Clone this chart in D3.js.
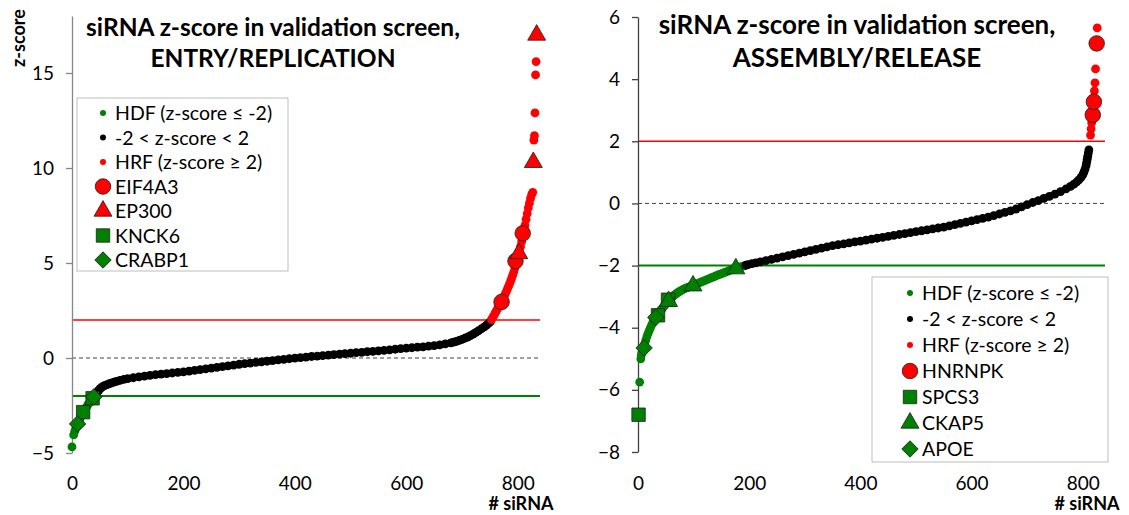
<!DOCTYPE html>
<html>
<head>
<meta charset="utf-8">
<script src="https://cdn.jsdelivr.net/npm/d3@7"></script>
<style>
  body { margin: 0; background: #fff; }
  text { font-family: Lato, "Open Sans", sans-serif; }
</style>
</head>
<body>
<svg id="chart" width="1129" height="515"></svg>
<script>
// ---- values: [siRNA rank, z-score] ----

// ENTRY/REPLICATION screen
const entryHDF = [[0,-4.68],[3,-4.05],[5,-3.85],[7,-3.68],[9,-3.52],[11,-3.4],[13,-3.28],[15,-3.15],[17,-3.03],[19,-2.92],[21,-2.82],[23,-2.72],[25,-2.62],[27,-2.53],[29,-2.44],[31,-2.36],[33,-2.28],[35,-2.2],[37,-2.12],[39,-2.05],[41,-2.0]];
const entryMid = [[43,-1.95],[44,-1.88],[45,-1.82],[46,-1.77],[48,-1.7],[50,-1.63],[52,-1.57],[55,-1.51],[58,-1.46],[62,-1.41],[66,-1.36],[70,-1.32],[75,-1.27],[80,-1.23],[86,-1.18],[93,-1.13],[100,-1.09],[110,-1.04],[120,-0.99],[130,-0.95],[140,-0.91],[150,-0.88],[160,-0.85],[170,-0.82],[180,-0.79],[190,-0.76],
  [200,-0.73],[210,-0.69],[220,-0.65],[230,-0.61],[240,-0.57],[250,-0.53],[260,-0.49],[270,-0.45],[280,-0.41],[290,-0.37],[300,-0.33],[310,-0.3],[320,-0.27],[330,-0.23],[340,-0.2],[350,-0.17],[360,-0.14],[370,-0.1],[380,-0.07],[390,-0.04],
  [400,-0.01],[410,0.02],[420,0.05],[430,0.08],[440,0.1],[450,0.13],[460,0.15],[470,0.18],[480,0.2],[490,0.23],[500,0.25],[510,0.28],[520,0.3],[530,0.33],[540,0.35],[550,0.38],[560,0.4],[570,0.43],[580,0.46],[590,0.49],
  [600,0.52],[610,0.54],[620,0.57],[630,0.59],[640,0.62],[650,0.65],[660,0.69],[670,0.74],[680,0.8],[685,0.84],[690,0.88],[695,0.93],[700,0.98],[705,1.04],[710,1.1],[715,1.18],[720,1.26],[725,1.35],[730,1.44],[735,1.54],[740,1.64],[744,1.73],[748,1.83],[751,1.92]];
const entryHRF = [[753,2.02],[755,2.12],[757,2.22],[759,2.33],[761,2.44],[763,2.55],[765,2.66],[767,2.77],[769,2.88],[771,2.98],[773,3.09],[775,3.21],[777,3.33],[779,3.46],[781,3.6],[783,3.74],[785,3.88],[787,4.03],[789,4.19],[791,4.36],[793,4.54],[795,4.74],[797,4.95],[799,5.17],[801,5.39],[803,5.62],[805,5.86],[807,6.12],[809,6.4],[811,6.68],[813,6.98],[815,7.3],[817,7.6],[819,7.9],[821,8.15],[823,8.4],[825,8.6],[827,8.72],[829,11.47],[830,11.7],[831,12.9],[832,14.9],[833,15.6]];
const entryEIF4A3 = [[771,2.95],[796,5.1],[809,6.56]];
const entryEP300 = [[802,5.5],[828,10.3],[834,17.0]];
const entryKNCK6 = [[20,-2.85],[37,-2.12]];
const entryCRABP1 = [[10,-3.47],[39,-2.05]];

// ASSEMBLY/RELEASE screen
const assemblyHDF = [[1,-6.8],[3,-5.75],[5,-5.0],[6,-4.88],[7,-4.8],[8,-4.74],[9,-4.68],[10,-4.63],[12,-4.52],[14,-4.4],[16,-4.29],[18,-4.19],[20,-4.1],[22,-4.01],[24,-3.93],[26,-3.86],[28,-3.79],[30,-3.73],[32,-3.67],[34,-3.61],[36,-3.56],[38,-3.51],[40,-3.46],[42,-3.41],[44,-3.37],[46,-3.32],[48,-3.28],[50,-3.23],[52,-3.18],[54,-3.13],[56,-3.09],[58,-3.05],[60,-3.02],
  [63,-2.98],[66,-2.94],[69,-2.9],[72,-2.86],[75,-2.83],[78,-2.8],[81,-2.77],[84,-2.74],[87,-2.72],[90,-2.7],[93,-2.68],[96,-2.66],[99,-2.64],[103,-2.61],[107,-2.58],[111,-2.55],[115,-2.52],[119,-2.49],[123,-2.46],[127,-2.43],[131,-2.4],[135,-2.37],[139,-2.34],[143,-2.31],[147,-2.28],[151,-2.26],[155,-2.23],[159,-2.2],[163,-2.17],[167,-2.14],[171,-2.12],[175,-2.09],[179,-2.07],[183,-2.05],[187,-2.03],[191,-2.01]];
const assemblyMid = [[194,-1.99],[198,-1.97],[205,-1.94],[212,-1.91],[220,-1.88],[230,-1.84],[240,-1.8],[250,-1.76],[260,-1.72],[270,-1.68],[280,-1.64],[290,-1.6],[300,-1.56],[310,-1.52],[320,-1.48],[330,-1.44],[340,-1.4],[350,-1.36],[360,-1.33],[370,-1.3],[380,-1.27],[390,-1.24],
  [400,-1.21],[410,-1.18],[420,-1.15],[430,-1.12],[440,-1.09],[450,-1.06],[460,-1.03],[470,-1.0],[480,-0.97],[490,-0.94],[500,-0.91],[510,-0.88],[520,-0.85],[530,-0.82],[540,-0.79],[550,-0.76],[560,-0.72],[570,-0.68],[580,-0.64],[590,-0.6],
  [600,-0.56],[610,-0.52],[620,-0.48],[630,-0.44],[640,-0.39],[650,-0.34],[660,-0.29],[670,-0.24],[680,-0.18],[690,-0.11],[700,-0.04],[710,0.03],[720,0.09],[730,0.16],[740,0.23],[750,0.3],[760,0.38],[770,0.47],[778,0.55],[784,0.62],[789,0.69],[793,0.76],[797,0.84],[800,0.92],[802,1.0],[804,1.1],[806,1.22],[807,1.32],[808,1.42],[809,1.52],[810,1.62],[811,1.72]];
const assemblyHRF = [[814,2.2],[815,2.4],[816,2.6],[818,2.85],[819,3.1],[820,3.3],[821,3.62],[822,3.88],[823,4.33],[825,5.15],[826,5.65]];
const assemblyHNRNPK = [[818,2.85],[820,3.27],[825,5.15]];
const assemblySPCS3 = [[1,-6.8],[36,-3.6],[54,-3.1]];
const assemblyCKAP5 = [[55,-3.15],[99,-2.65],[176,-2.1]];
const assemblyAPOE = [[11,-4.65],[32,-3.67]];

// axis ticks and texts
const xTicks = [0, 200, 400, 600, 800];
const entryYTicks = [-5, 0, 5, 10, 15];
const assemblyYTicks = [-8, -6, -4, -2, 0, 2, 4, 6];
const classLabels = ["HDF (z-score \u2264 -2)", "-2 < z-score < 2", "HRF (z-score \u2265 2)"];
const entryGenes = ["EIF4A3", "EP300", "KNCK6", "CRABP1"];
const assemblyGenes = ["HNRNPK", "SPCS3", "CKAP5", "APOE"];
const titleLine1 = "siRNA z-score in validation screen,";

// Colours
const colors = {
  hdf: "#008000",
  mid: "#000000",
  hrf: "#ff0000",
  outline: "#1f1f1f",
  legendBorder: "#bdbdbd",
  zeroLine: "#404040"
};

const svg = d3.select("#chart");

// marker paths (diamond = rotated square)
const markerPath = {
  circle: d3.symbol().type(d3.symbolCircle).size(190)(),
  triangle: d3.symbol().type(d3.symbolTriangle).size(140)(),
  square: d3.symbol().type(d3.symbolSquare).size(180)(),
  diamond: d3.symbol().type(d3.symbolSquare).size(135)()
};

function drawMarker(sel, shape, color) {
  sel.append("path")
      .attr("d", markerPath[shape])
      .attr("transform", shape === "diamond" ? "rotate(45)" : null)
      .attr("fill", color)
      .attr("stroke", colors.outline)
      .attr("stroke-width", 0.8);
}

function drawPanel(p) {
  const x = d3.scaleLinear().domain([0, 840]).range(p.xRange);
  const y = d3.scaleLinear().domain(p.yDomain).range(p.yRange);
  const g = svg.append("g");

  // threshold lines
  g.append("line")
      .attr("x1", x(0)).attr("x2", x(840)).attr("y1", y(0)).attr("y2", y(0))
      .attr("stroke", colors.zeroLine).attr("stroke-width", 1).attr("stroke-dasharray", "4,3");
  g.append("line")
      .attr("x1", x(0)).attr("x2", x(840)).attr("y1", y(2)).attr("y2", y(2))
      .attr("stroke", colors.hrf).attr("stroke-width", 1.6);
  g.append("line")
      .attr("x1", x(0)).attr("x2", x(840)).attr("y1", y(-2)).attr("y2", y(-2))
      .attr("stroke", colors.hdf).attr("stroke-width", 2);

  // y axis
  const yAxis = g.append("g")
      .attr("transform", `translate(${x(0)},0)`)
      .call(d3.axisLeft(y).tickValues(p.yTicks).tickSize(6).tickSizeOuter(0).tickPadding(12));
  yAxis.attr("font-size", 19).attr("font-family", "Lato");
  yAxis.selectAll("path, line").attr("stroke", p.axisColor).attr("stroke-width", 1.3);
  yAxis.selectAll("text").attr("fill", "#000");

  // x tick labels (no axis line)
  const xAxis = g.append("g")
      .attr("transform", `translate(0,476)`)
      .call(d3.axisBottom(x).tickValues(xTicks).tickSize(0).tickPadding(0));
  xAxis.select(".domain").remove();
  xAxis.attr("font-size", 19).attr("font-family", "Lato");
  xAxis.selectAll("text").attr("fill", "#000");

  // siRNA dots
  [[p.hdf, colors.hdf], [p.mid, colors.mid], [p.hrf, colors.hrf]].forEach(([data, color]) => {
    g.append("g").selectAll("circle")
        .data(data)
      .enter().append("circle")
        .attr("cx", d => x(d[0]))
        .attr("cy", d => y(d[1]))
        .attr("r", 4.4)
        .attr("fill", color);
  });

  // highlighted genes
  p.genes.forEach(gene => {
    g.append("g").selectAll("g")
        .data(gene.data)
      .enter().append("g")
        .attr("transform", d => `translate(${x(d[0])},${y(d[1])})`)
        .each(function() { drawMarker(d3.select(this), gene.shape, gene.color); });
  });

  // title
  p.title.forEach((line, i) => {
    g.append("text")
        .attr("x", p.titleX)
        .attr("y", p.titleY[i])
        .attr("text-anchor", "middle")
        .attr("font-weight", "bold")
        .attr("font-size", p.titleSize)
        .text(line);
  });

  // "# siRNA"
  g.append("text")
      .attr("x", p.xLabelX)
      .attr("y", 510)
      .attr("text-anchor", "middle")
      .attr("font-weight", "bold")
      .attr("font-size", 18)
      .text("# siRNA");

  // legend
  const lg = g.append("g");
  lg.append("rect")
      .attr("x", p.legend.x).attr("y", p.legend.y)
      .attr("width", p.legend.w).attr("height", p.legend.h)
      .attr("fill", "#fff")
      .attr("stroke", colors.legendBorder)
      .attr("stroke-width", 1);
  const rows = [
    { label: classLabels[0], color: colors.hdf },
    { label: classLabels[1], color: colors.mid },
    { label: classLabels[2], color: colors.hrf }
  ].concat(p.genes.map(gn => ({ label: gn.name, color: gn.color, shape: gn.shape })));
  rows.forEach((r, i) => {
    const cy = p.legend.rowY + i * p.legend.step;
    const row = lg.append("g").attr("transform", `translate(${p.legend.markerX},${cy})`);
    if (r.shape) {
      drawMarker(row, r.shape, r.color);
    } else {
      row.append("circle").attr("r", 3).attr("fill", r.color);
    }
    lg.append("text")
        .attr("x", p.legend.markerX + 12)
        .attr("y", cy)
        .attr("dy", "0.36em")
        .attr("font-size", 19.5)
        .text(r.label);
  });
}

// left panel
drawPanel({
  xRange: [72, 540], yDomain: [-5, 18], yRange: [453, 16], yTicks: entryYTicks,
  axisColor: "#868686",
  hdf: entryHDF, mid: entryMid, hrf: entryHRF,
  genes: [
    { name: entryGenes[0], data: entryEIF4A3, shape: "circle", color: colors.hrf },
    { name: entryGenes[1], data: entryEP300, shape: "triangle", color: colors.hrf },
    { name: entryGenes[2], data: entryKNCK6, shape: "square", color: colors.hdf },
    { name: entryGenes[3], data: entryCRABP1, shape: "diamond", color: colors.hdf }
  ],
  title: [titleLine1, "ENTRY/REPLICATION"], titleX: 273, titleY: [36, 67], titleSize: 24.5,
  xLabelX: 521,
  legend: { x: 77, y: 98, w: 211, h: 173, markerX: 103, rowY: 113, step: 24.5 }
});

// right panel
drawPanel({
  xRange: [638, 1105], yDomain: [-8, 6], yRange: [452, 17], yTicks: assemblyYTicks,
  axisColor: "#404040",
  hdf: assemblyHDF, mid: assemblyMid, hrf: assemblyHRF,
  genes: [
    { name: assemblyGenes[0], data: assemblyHNRNPK, shape: "circle", color: colors.hrf },
    { name: assemblyGenes[1], data: assemblySPCS3, shape: "square", color: colors.hdf },
    { name: assemblyGenes[2], data: assemblyCKAP5, shape: "triangle", color: colors.hdf },
    { name: assemblyGenes[3], data: assemblyAPOE, shape: "diamond", color: colors.hdf }
  ],
  title: [titleLine1, "ASSEMBLY/RELEASE"], titleX: 857, titleY: [34, 67], titleSize: 26,
  xLabelX: 1087,
  legend: { x: 872, y: 277, w: 236, h: 185, markerX: 910, rowY: 293, step: 26 }
});

// y axis label (left only)
svg.append("text")
    .attr("transform", "translate(25,38) rotate(-90)")
    .attr("text-anchor", "middle")
    .attr("font-weight", "bold")
    .attr("font-size", 18)
    .text("z-score");
</script>
</body>
</html>
